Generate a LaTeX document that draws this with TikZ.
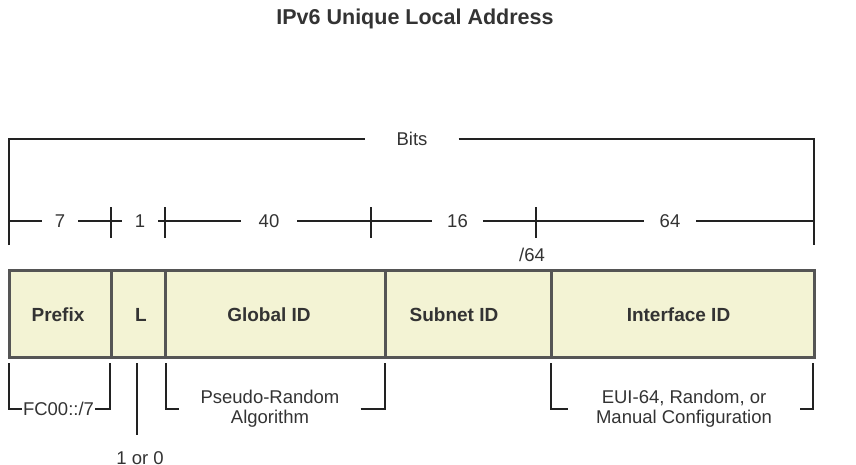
\documentclass[tikz,border=0pt]{standalone}
\usepackage{fontspec}
\setmainfont{Liberation Sans}
\definecolor{fieldfill}{HTML}{F3F3D4}
\definecolor{fieldline}{HTML}{555555}
\definecolor{inkgray}{HTML}{333333}
\definecolor{rulegray}{HTML}{222222}

\begin{document}
\begin{tikzpicture}[x=1pt,y=-1pt,
    field/.style={draw=fieldline, fill=fieldfill, line width=3pt, minimum height=87pt, inner sep=0pt},
    fieldlbl/.style={text=inkgray, inner sep=0pt, font=\fontsize{19}{20}\selectfont\bfseries},
    bitlbl/.style={text=inkgray, inner ysep=0pt, inner xsep=15pt, font=\fontsize{18.5}{20}\selectfont},
    note/.style={text=inkgray, inner ysep=0pt, align=center, font=\fontsize{18.5}{20}\selectfont},
    rule/.style={draw=rulegray, line width=1.2pt}]
    \useasboundingbox (0,0) rectangle (856,465);

    \node[text=inkgray, font=\fontsize{21.5}{24}\selectfont\bfseries] (title) at (415,19) {IPv6 Unique Local Address};

    % address fields
    \node[field, minimum width=102pt] (prefix) at (60,313.5) {};
    \node[field, minimum width=54pt] (lflag) at (138,313.5) {};
    \node[field, minimum width=220pt] (global) at (275,313.5) {};
    \node[field, minimum width=166pt] (subnet) at (468,313.5) {};
    \node[field, minimum width=263pt] (iface) at (682.5,313.5) {};
    \node[fieldlbl] (prefixlbl) at ([xshift=-2pt,yshift=-1pt]prefix.center) {Prefix};
    \node[fieldlbl] (lflaglbl) at ([xshift=3pt,yshift=-1pt]lflag.center) {L};
    \node[fieldlbl] (globallbl) at ([xshift=-6pt,yshift=-1pt]global.center) {Global ID};
    \node[fieldlbl] (subnetlbl) at ([xshift=-14pt,yshift=-1pt]subnet.center) {Subnet ID};
    \node[fieldlbl] (ifacelbl) at ([xshift=-4pt,yshift=-1pt]iface.center) {Interface ID};

    % bits bracket
    \node[bitlbl, inner xsep=31pt] (bits) at (412,139) {Bits};
    \draw[rule] (9,245) |- (bits);
    \draw[rule] (bits) -| (814,245);

    % bit widths
    \node[bitlbl, inner xsep=13pt] (w7) at (60,221) {7};
    \node[bitlbl, inner xsep=13pt] (w1) at (140,221) {1};
    \node[bitlbl, inner xsep=18pt] (w40) at (269,221) {40};
    \node[bitlbl, inner xsep=15pt] (w16) at (457.5,221) {16};
    \node[bitlbl, inner xsep=16pt] (w64) at (670,221) {64};
    \draw[rule] (9,221) -- (w7) -- (w1) -- (w40) -- (w16) -- (w64) -- (814,221);
    \foreach \tx in {111,165,371,536}
        \draw[rule] (\tx,207) -- (\tx,238);
    \node[bitlbl, inner xsep=0pt] (cut64) at (532,255) {/64};

    % notes under the fields
    \node[note, inner xsep=1pt] (fc) at (58.5,409) {FC00::/7};
    \draw[rule] (9,363) |- (fc);
    \draw[rule] (fc) -| (110,363);

    \node[note] (bit01) at (140,458) {1 or 0};
    \draw[rule] (137,363) -- (137,435);

    \node[note, inner xsep=21pt] (prng) at (270,409) {Pseudo-Random\\Algorithm};
    \draw[rule] (166,363) |- (prng);
    \draw[rule] (prng) -| (385,363);

    \node[note, inner xsep=28pt] (eui) at (684,409) {EUI-64, Random, or\\Manual Configuration};
    \draw[rule] (551,363) |- (eui);
    \draw[rule] (eui) -| (813,363);
\end{tikzpicture}
\end{document}
